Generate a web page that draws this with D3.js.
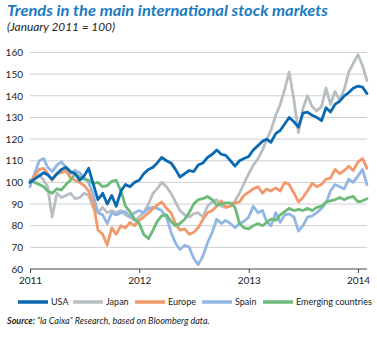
<!DOCTYPE html>
<html>
<head>
<meta charset="utf-8">
<script src="https://cdn.jsdelivr.net/npm/d3@7"></script>
<style>
  html, body { margin: 0; padding: 0; background: #fff; }
  svg { display: block; font-family: Lato, "Open Sans", sans-serif; }
</style>
</head>
<body>
<svg id="chart" width="377" height="338"></svg>
<script>
// Semi-monthly observations, January 2011 = 100
const dates = [
  "2011-01-01","2011-01-16","2011-02-01","2011-02-16","2011-03-01","2011-03-16",
  "2011-04-01","2011-04-16","2011-05-01","2011-05-16","2011-06-01","2011-06-16",
  "2011-07-01","2011-07-16","2011-08-01","2011-08-16","2011-09-01","2011-09-16",
  "2011-10-01","2011-10-16","2011-11-01","2011-11-16","2011-12-01","2011-12-16",
  "2012-01-01","2012-01-16","2012-02-01","2012-02-16","2012-03-01","2012-03-16",
  "2012-04-01","2012-04-16","2012-05-01","2012-05-16","2012-06-01","2012-06-16",
  "2012-07-01","2012-07-16","2012-08-01","2012-08-16","2012-09-01","2012-09-16",
  "2012-10-01","2012-10-16","2012-11-01","2012-11-16","2012-12-01","2012-12-16",
  "2013-01-01","2013-01-16","2013-02-01","2013-02-16","2013-03-01","2013-03-16",
  "2013-04-01","2013-04-16","2013-05-01","2013-05-16","2013-06-01","2013-06-16",
  "2013-07-01","2013-07-16","2013-08-01","2013-08-16","2013-09-01","2013-09-16",
  "2013-10-01","2013-10-16","2013-11-01","2013-11-16","2013-12-01","2013-12-16",
  "2014-01-01","2014-01-16","2014-01-31"
];

const usa = [
  100,101.5,103,104.5,103.5,101.5,104,106,107,105,104,101,
  103,106.5,99,92,95,90,94,89,96,99,98,100,
  101,104,106,107,109,111.5,110,109,106,102.5,104,105.5,
  105,108,109,111.5,113,115,113,112.5,110,107.5,110,111,
  112,115,117,119,120,118.5,122.5,124,127,130,128,125.5,
  132,132.5,131,130,128.5,134.5,132.5,136,137.5,140,141.5,143.5,
  144.5,144,141
];
const japan = [
  100,102,103.5,101,98,84,95,93,94,95,92.5,93,
  95,94,88,86,88.5,86,87,86,87,85,84,82.5,
  84,86,90,95,97,100,98,95,91,87,85,84,
  85.5,86,84,89,91,92,89,88.5,89,91.5,95,99.5,
  104,108,111,115,119.5,124,131,136,143,151,138,123,
  134,140,135,133,135,143.5,136,142,138,143,151,155,
  159,154,147
];
const europe = [
  100,103,106,106.5,104,101,104,104.5,105.5,102,101,100,
  98.5,96,90,78,76,71,79,76,80,79,81.5,80,
  82.5,84,86,88,89.5,91,88,86,81,78,78.5,76,
  77,79,83,86,87,89,91.5,88.5,89,90.5,91,94,
  95.5,97,98,95,97,96,97.5,96,100,99,95,91,
  93,96,99.5,98,99,101.5,102,106,104,105.5,107.5,105.5,
  109.5,111,106.5
];
const spain = [
  98,104,110,111,107,105,108,109.5,107,104,105.5,104.5,
  102,100,94,86,85,81,86,85,86,86.5,84,86,
  87,86,88,88.5,88,87,84,77,72,69,71,70,
  65,62,66,72,77,83,81,82.5,81,79,81,82,
  84,89,86,87,82,80,86,81.5,85,85.5,84,77.5,
  80,84,84.5,86,88,90.5,96,99,98,97,101.5,100,
  103,106,99
];
const emerging = [
  101,100,99,98,96,95,97,96.5,99,101,104,102.5,
  101.5,101,99.5,100,98,98.5,100.5,101,96,89,86.5,83,
  81,76,74,78,82,84.5,85,82,80,81,83,86,
  90,92,92.5,93.5,92,89.5,90,90.5,90.5,88.5,81,79,
  78.5,80,81,80,81.5,83,82.5,85,86.5,88,87,87.5,
  87,88,87,88.5,89,91,91.5,92,93,92,93,93.5,
  91,91.5,92.5
];

const seriesNames = ["USA", "Japan", "Europe", "Spain", "Emerging countries"];
const seriesValues = [usa, japan, europe, spain, emerging];
const seriesColors = ["#0a69b3", "#b7bfc2", "#f2996b", "#93b7e4", "#6dbb7b"];
// stacking order, bottom to top
const drawOrder = [1, 3, 2, 4, 0];

const yTicks = [60, 70, 80, 90, 100, 110, 120, 130, 140, 150, 160];
const xTickLabels = ["2011", "2012", "2013", "2014"];

const parse = d3.timeParse("%Y-%m-%d");
const svg = d3.select("#chart");

const margin = { left: 30, right: 367, top: 52.5, bottom: 269 };

const x = d3.scaleTime()
  .domain([parse("2011-01-01"), parse("2014-01-31")])
  .range([margin.left, margin.right]);
const y = d3.scaleLinear()
  .domain([60, 160])
  .range([margin.bottom, margin.top]);

// Title and subtitle
svg.append("text")
  .attr("x", 7).attr("y", 16)
  .attr("font-size", 15).attr("font-weight", "bold").attr("font-style", "italic")
  .attr("fill", "#1b7bc0")
  .attr("textLength", 321).attr("lengthAdjust", "spacingAndGlyphs")
  .text("Trends in the main international stock markets");
svg.append("text")
  .attr("x", 7).attr("y", 31)
  .attr("font-size", 11.2).attr("font-style", "italic")
  .attr("fill", "#222")
  .attr("textLength", 108).attr("lengthAdjust", "spacingAndGlyphs")
  .text("(January 2011 = 100)");

// Horizontal gridlines
svg.append("g")
  .selectAll("line")
  .data(yTicks.filter(v => v > 60))
  .join("line")
  .attr("x1", margin.left).attr("x2", margin.right)
  .attr("y1", d => y(d)).attr("y2", d => y(d))
  .attr("stroke", "#cfcfcf").attr("stroke-width", 1);

// Y axis labels
const yAxis = d3.axisLeft(y).tickValues(yTicks).tickSize(0).tickPadding(7);
const gy = svg.append("g")
  .attr("transform", `translate(${margin.left},0)`)
  .call(yAxis);
gy.select(".domain").remove();
gy.selectAll("text")
  .attr("font-family", "Lato, sans-serif")
  .attr("font-size", 10).attr("fill", "#222");

// X axis
const xTickDates = xTickLabels.map(s => parse(s + "-01-01"));
const xAxis = d3.axisBottom(x)
  .tickValues(xTickDates)
  .tickFormat((d, i) => xTickLabels[i])
  .tickSize(4).tickSizeOuter(0).tickPadding(4);
const gx = svg.append("g")
  .attr("transform", `translate(0,${margin.bottom})`)
  .call(xAxis);
gx.select(".domain").attr("stroke", "#444").attr("stroke-width", 1.2)
  .attr("d", `M${margin.left},0H${margin.right}`);
gx.selectAll(".tick line").attr("stroke", "#444").attr("stroke-width", 1);
gx.selectAll("text")
  .attr("font-family", "Lato, sans-serif")
  .attr("font-size", 10).attr("fill", "#222");

// Series lines
const line = d3.line()
  .x((d, i) => x(parse(dates[i])))
  .y(d => y(d));

svg.append("g")
  .selectAll("path")
  .data(drawOrder)
  .join("path")
  .attr("d", k => line(seriesValues[k]))
  .attr("fill", "none")
  .attr("stroke", k => seriesColors[k])
  .attr("stroke-width", 2.8)
  .attr("stroke-linejoin", "round")
  .attr("stroke-linecap", "round");

// Legend
const legendX = [18, 73, 135, 202, 263];
const legend = svg.append("g").attr("transform", "translate(0,302)");
const items = legend.selectAll("g")
  .data(seriesNames)
  .join("g")
  .attr("transform", (d, i) => `translate(${legendX[i]},0)`);
items.append("line")
  .attr("x1", 0).attr("x2", 30)
  .attr("y1", 0).attr("y2", 0)
  .attr("stroke", (d, i) => seriesColors[i])
  .attr("stroke-width", 3.5);
items.append("text")
  .attr("x", 33).attr("y", 3.3)
  .attr("font-size", 9).attr("fill", "#222")
  .text(d => d);

// Source note
const src = svg.append("text")
  .attr("x", 7).attr("y", 324)
  .attr("font-size", 9).attr("font-style", "italic").attr("fill", "#222");
src.append("tspan").attr("font-weight", "bold").text("Source: ");
src.append("tspan").text("\u201Cla Caixa\u201D Research, based on Bloomberg data.");
</script>
</body>
</html>
